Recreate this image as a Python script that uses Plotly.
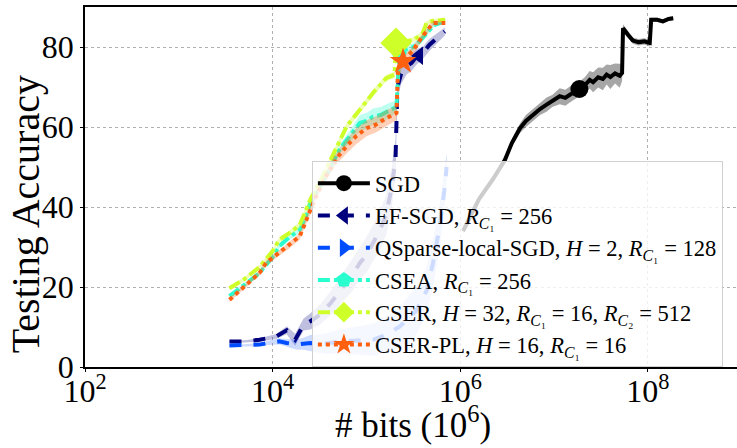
import plotly.graph_objects as go

# ---- data (x given as log10 of # bits) ----
sgd_logx = [6.03, 6.2, 6.35, 6.477, 6.55, 6.637, 6.7, 6.776, 6.85, 6.92, 6.98, 7.06, 7.12, 7.168, 7.22, 7.27,
            7.33, 7.38, 7.416, 7.47, 7.52, 7.56, 7.6, 7.65, 7.7, 7.725, 7.735, 7.79, 7.84, 7.9, 7.96, 8.02,
            8.035, 8.1, 8.16, 8.22, 8.27]
sgd_acc = [34, 42, 47, 51.8, 56, 59.7, 61.5, 63.1, 64.5, 65.6, 66.5, 67.7, 67.3, 68.1, 68.8, 69.5,
           70.5, 71.8, 71.2, 72.4, 72.0, 73.1, 72.5, 73.4, 72.8, 73.5, 84.7, 83.0, 81.6, 81.2, 81.4, 81.0,
           86.8, 86.8, 86.4, 87.0, 87.2]
sgd_spread = [0.5, 0.8, 1.0, 1.0, 1.0, 1.2, 1.5, 1.5, 1.5, 1.8, 1.5, 2.0, 2.0, 2.0, 1.8, 1.8,
              2.0, 2.2, 2.5, 2.5, 2.8, 2.5, 3.0, 2.5, 3.0, 2.0, 1.0, 0.8, 0.8, 0.8, 0.8, 0.8,
              0.5, 0.5, 0.5, 0.5, 0.5]

ef_logx = [3.54, 3.7, 3.86, 3.95, 4.04, 4.15, 4.24, 4.33, 4.40, 4.5, 4.62, 4.75, 4.85, 4.93, 5.0, 5.07,
           5.14, 5.21, 5.27, 5.31, 5.32, 5.33, 5.37, 5.43, 5.48, 5.53, 5.6, 5.67, 5.75, 5.835]
ef_acc = [6.4, 6.4, 6.8, 7.2, 7.65, 9.2, 6.8, 10.6, 11.4, 13, 16, 20, 23, 26, 28, 31,
          34, 38, 45, 52, 62, 70, 73.3, 75.2, 76, 77.5, 78.5, 80.5, 82.2, 83.9]
ef_spread = [0.3, 0.3, 0.4, 0.5, 0.6, 1.0, 1.5, 1.5, 2.0, 2.5, 3.0, 3.5, 4.0, 4.0, 4.5, 4.5,
             5.0, 5.0, 5.0, 5.0, 4.0, 3.0, 2.5, 2.0, 2.0, 2.0, 1.5, 1.5, 1.2, 1.0]

qs_logx = [3.54, 3.7, 3.86, 3.95, 4.07, 4.15, 4.25, 4.33, 4.40, 4.55, 4.72, 4.9, 5.07, 5.2, 5.35,
           5.53, 5.64, 5.71, 5.78, 5.83, 5.855]
qs_acc = [5.4, 5.4, 5.6, 6.0, 6.4, 6.0, 5.6, 5.8, 6.0, 5.8, 6.4, 6.6, 6.8, 8.0, 10,
          14, 19, 26, 35, 44, 50]
qs_spread = [0.3, 0.3, 0.4, 0.5, 0.8, 1.0, 1.2, 1.5, 2.0, 2.5, 3.0, 3.5, 4.0, 4.5, 5.0,
             6.0, 6.0, 6.0, 5.5, 5.0, 3.5]

csea_logx = [3.54, 3.7, 3.86, 4.0, 4.07, 4.18, 4.29, 4.36, 4.40, 4.5, 4.6, 4.71, 4.82, 4.93, 5.0,
             5.07, 5.15, 5.25, 5.32, 5.34, 5.36, 5.43, 5.5, 5.57, 5.64, 5.72, 5.83]
csea_acc = [17.7, 20.5, 23.5, 27.5, 30.2, 32.5, 34.3, 38, 41, 45, 49, 54.3, 57.5, 61, 61.5,
            62.6, 63, 64.3, 65, 74, 78.5, 79.5, 80, 81.5, 83.5, 85.5, 86.4]
csea_spread = [0.5, 0.5, 0.5, 0.6, 0.6, 0.7, 0.8, 0.8, 0.8, 1.0, 1.0, 1.2, 1.5, 2.0, 2.0,
               2.0, 2.0, 1.8, 1.5, 1.5, 1.0, 1.0, 1.0, 0.8, 0.8, 0.6, 0.5]

cser_logx = [3.54, 3.7, 3.86, 4.0, 4.07, 4.18, 4.29, 4.40, 4.52, 4.64, 4.79, 4.93, 5.07, 5.21,
             5.30, 5.315, 5.4, 5.49, 5.55, 5.6, 5.64, 5.7, 5.84]
cser_acc = [19.7, 22, 25, 29, 31.8, 33.5, 35.6, 41.8, 47, 52.7, 60.2, 64.3, 68.5, 72.2,
            73.1, 81, 81.2, 81.8, 82.5, 83.5, 86, 86.5, 86.8]
cser_spread = [0.5, 0.5, 0.5, 0.5, 0.6, 0.6, 0.7, 0.8, 0.8, 0.8, 0.8, 0.8, 0.8, 0.8,
               0.8, 0.8, 0.6, 0.6, 0.6, 0.6, 0.5, 0.5, 0.5]

pl_logx = [3.54, 3.7, 3.86, 3.93, 4.07, 4.18, 4.29, 4.36, 4.45, 4.55, 4.65, 4.71, 4.8, 4.89, 5.0,
           5.1, 5.21, 5.32, 5.335, 5.39, 5.45, 5.5, 5.6, 5.71, 5.84]
pl_acc = [16.8, 20, 23.5, 26, 28.5, 30.5, 32.7, 36.8, 42, 47, 51, 53, 55.5, 57.7, 59.7,
          60.6, 62.2, 63.5, 73.5, 76.4, 78, 79.3, 82.7, 86, 86]
pl_spread = [0.5, 0.5, 0.6, 0.6, 0.7, 0.8, 0.8, 1.0, 1.0, 1.2, 1.5, 1.5, 1.8, 2.0, 2.0,
             2.0, 2.0, 1.8, 1.5, 1.2, 1.0, 1.0, 0.8, 0.6, 0.5]

# single highlighted marker per series (log10 bits, accuracy)
sgd_mark = (7.27, 69.5)
ef_mark = (5.56, 77.8)
csea_mark = (5.35, 78.0)
cser_mark = (5.315, 81.0)
pl_mark = (5.39, 76.4)

x_tick_exp = [2, 4, 6, 8]
y_ticks = [0, 20, 40, 60, 80]

names = [
    "SGD",
    "EF-SGD, <i>R</i><sub><i>C</i>₁</sub> = 256",
    "QSparse-local-SGD, <i>H</i> = 2, <i>R</i><sub><i>C</i>₁</sub> = 128",
    "CSEA, <i>R</i><sub><i>C</i>₁</sub> = 256",
    "CSER, <i>H</i> = 32, <i>R</i><sub><i>C</i>₁</sub> = 16, <i>R</i><sub><i>C</i>₂</sub> = 512",
    "CSER-PL, <i>H</i> = 16, <i>R</i><sub><i>C</i>₁</sub> = 16",
]

FONT = "Liberation Serif, Times New Roman, serif"

series = [
    dict(lx=sgd_logx, y=sgd_acc, s=sgd_spread, color="#000000", band="rgba(0,0,0,0.35)",
         dash="solid", symbol="circle", msize=18, mark=sgd_mark),
    dict(lx=ef_logx, y=ef_acc, s=ef_spread, color="#00007f", band="rgba(0,0,127,0.25)",
         dash="dash", symbol="triangle-left", msize=16, mark=ef_mark),
    dict(lx=qs_logx, y=qs_acc, s=qs_spread, color="#004cff", band="rgba(0,76,255,0.2)",
         dash="dash", symbol="triangle-right", msize=16, mark=None),
    dict(lx=csea_logx, y=csea_acc, s=csea_spread, color="#29ffce", band="rgba(41,255,206,0.3)",
         dash="dashdot", symbol="pentagon", msize=16, mark=csea_mark),
    dict(lx=cser_logx, y=cser_acc, s=cser_spread, color="#ceff29", band="rgba(206,255,41,0.35)",
         dash="dashdot", symbol="diamond", msize=24, mark=cser_mark),
    dict(lx=pl_logx, y=pl_acc, s=pl_spread, color="#ff6010", band="rgba(255,96,16,0.3)",
         dash="dot", symbol="star", msize=20, mark=pl_mark),
]

fig = go.Figure()

for i, sr in enumerate(series):
    xs = [10 ** v for v in sr["lx"]]
    up = [a + b for a, b in zip(sr["y"], sr["s"])]
    lo = [a - b for a, b in zip(sr["y"], sr["s"])]
    fig.add_trace(go.Scatter(x=xs + xs[::-1], y=up + lo[::-1], fill="toself",
                             fillcolor=sr["band"], line=dict(width=0), mode="lines",
                             hoverinfo="skip", showlegend=False))
    fig.add_trace(go.Scatter(x=xs, y=sr["y"], mode="lines",
                             line=dict(color=sr["color"], width=4, dash=sr["dash"]),
                             showlegend=False))
    if sr["mark"] is not None:
        fig.add_trace(go.Scatter(x=[10 ** sr["mark"][0]], y=[sr["mark"][1]], mode="markers",
                                 marker=dict(color=sr["color"], symbol=sr["symbol"], size=sr["msize"],
                                             line=dict(width=0)),
                                 showlegend=False))

# legend-only entries
for i, sr in enumerate(series):
    fig.add_trace(go.Scatter(x=[None], y=[None], mode="lines+markers", name=names[i],
                             line=dict(color=sr["color"], width=4, dash=sr["dash"]),
                             marker=dict(color=sr["color"], symbol=sr["symbol"], size=16,
                                         line=dict(width=0)),
                             showlegend=True))

fig.update_layout(
    width=737, height=448,
    margin=dict(l=85, r=0, t=7, b=81, autoexpand=False),
    plot_bgcolor="white", paper_bgcolor="white",
    font=dict(family=FONT, color="black", size=30),
    legend=dict(x=0.348, y=0.572, xanchor="left", yanchor="top",
                bgcolor="rgba(255,255,255,0.8)", bordercolor="#d0d0d0", borderwidth=1,
                font=dict(family=FONT, size=22.5, color="black"),
                itemwidth=52, tracegroupgap=0),
    showlegend=True,
    annotations=[
        dict(text="Testing Accuracy", xref="paper", yref="paper", x=-0.09, y=0.425,
             xanchor="center", yanchor="middle", textangle=-90, showarrow=False,
             font=dict(family=FONT, size=40, color="black")),
        dict(text="# bits (10<sup>6</sup>)", xref="paper", yref="paper", x=0.503, y=-0.155,
             xanchor="center", yanchor="middle", showarrow=False,
             font=dict(family=FONT, size=35, color="black")),
    ],
)

fig.update_xaxes(
    type="log", range=[2, 8.95], automargin=False,
    tickvals=[10 ** e for e in x_tick_exp],
    ticktext=[f"10<sup>{e}</sup>" for e in x_tick_exp],
    tickfont=dict(family=FONT, size=32),
    ticklabelstandoff=-8,
    showgrid=True, gridcolor="#b0b0b0", gridwidth=1, griddash="dot",
    showline=True, linecolor="black", linewidth=1.5, mirror=True,
    ticks="outside", ticklen=3, tickcolor="black",
)
fig.update_yaxes(
    range=[0, 90], tickvals=y_ticks, automargin=False,
    tickfont=dict(family=FONT, size=32),
    showgrid=True, gridcolor="#b0b0b0", gridwidth=1, griddash="dot",
    zeroline=False,
    showline=True, linecolor="black", linewidth=1.5,
    ticks="outside", ticklen=3, tickcolor="black",
)

fig.write_html("out.html", config={"displayModeBar": False},
               post_script="document.body.style.margin='0px';")
